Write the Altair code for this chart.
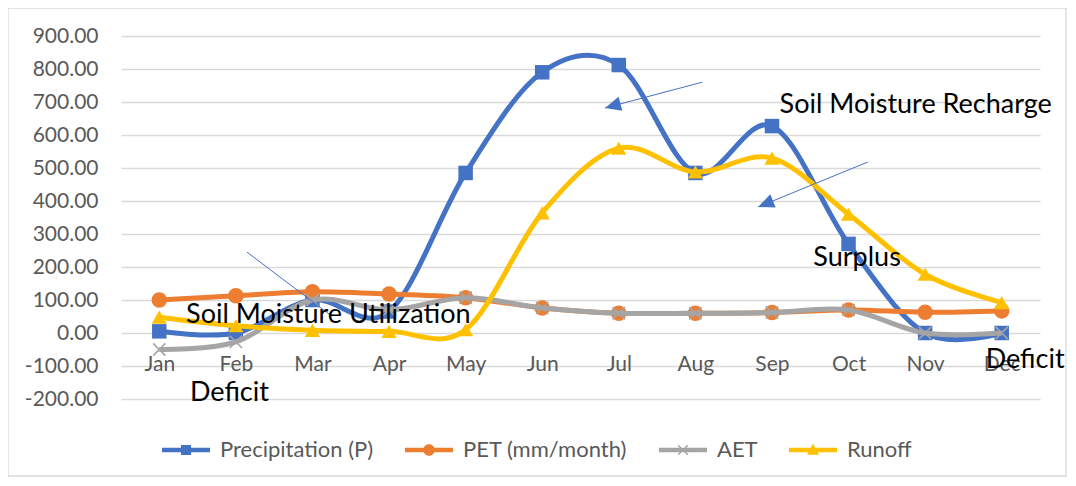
import altair as alt
import pandas as pd

# ---------------- data ----------------
months = ["Jan", "Feb", "Mar", "Apr", "May", "Jun", "Jul", "Aug", "Sep", "Oct", "Nov", "Dec"]
precip = [5, 0, 100, 65, 485, 790, 812, 485, 627, 270, 0, 0]
pet = [100, 113, 125, 118, 107, 76, 60, 60, 62, 70, 63, 67]
aet = [-50, -27, 100, 70, 107, 76, 60, 60, 62, 70, 0, 0]
runoff = [48, 22, 8, 5, 10, 364, 560, 488, 530, 360, 178, 92]

series_names = ["Precipitation (P)", "PET (mm/month)", "AET", "Runoff"]
series_colors = ["#4472C4", "#ED7D31", "#A5A5A5", "#FFC000"]
y_ticks = [-200, -100, 0, 100, 200, 300, 400, 500, 600, 700, 800, 900]

# annotations (data coordinates: x = month index, y = mm)
note_texts = ["Soil Moisture Recharge", "Surplus", "Soil Moisture Utilization", "Deficit", "Deficit"]
note_x = [8.10, 8.54, 0.35, 0.40, 10.79]
note_y = [691, 227, 55, -182, -82]

arrow_x1 = [7.09, 9.25]
arrow_y1 = [760, 518]
arrow_x2 = [5.82, 7.82]
arrow_y2 = [682, 382]
arrow_angle = [255, 248]

leader_x1 = [1.145]
leader_y1 = [245]
leader_x2 = [2.23]
leader_y2 = [55]

FONT = "Lato"

# ---------------- tables ----------------
series_values = [precip, pet, aet, runoff]
rows = []
for name, vals in zip(series_names, series_values):
    for i, v in enumerate(vals):
        rows.append({"series": name, "m": i, "value": v})
df = pd.DataFrame(rows)

notes_df = pd.DataFrame({"text": note_texts, "x": note_x, "y": note_y})
arrows_df = pd.DataFrame({"x1": arrow_x1, "y1": arrow_y1, "x2": arrow_x2, "y2": arrow_y2, "angle": arrow_angle})
leader_df = pd.DataFrame({"x1": leader_x1, "y1": leader_y1, "x2": leader_x2, "y2": leader_y2})
legend_df = pd.DataFrame({"series": series_names})
frame_df = pd.DataFrame({"k": [0]})

month_arr = "[" + ",".join("'%s'" % m for m in months) + "]"

xscale = alt.Scale(domain=[-0.5, 11.5], nice=False, zero=False)
yscale = alt.Scale(domain=[-200, 900], nice=False, zero=False)

x_axis = alt.Axis(
    values=list(range(12)),
    labelExpr=month_arr + "[datum.value]",
    title=None,
    grid=False,
    ticks=False,
    tickSize=0,
    domain=False,
    offset=-66,
    labelPadding=20,
    labelOverlap=False,
    labelFont=FONT,
    labelFontSize=21,
    labelColor="#595959",
)
y_axis = alt.Axis(
    values=y_ticks,
    labelExpr="replace(format(datum.value, '.2f'), '\u2212', '-')",
    title=None,
    grid=True,
    gridColor="#D9D9D9",
    gridWidth=1.3,
    ticks=False,
    tickSize=0,
    domain=False,
    labelPadding=23,
    labelOverlap=False,
    labelSeparation=0,
    labelFont=FONT,
    labelFontSize=21,
    labelColor="#595959",
)


def xq(field):
    return alt.X(field, type="quantitative", scale=xscale, axis=x_axis)


def yq(field):
    return alt.Y(field, type="quantitative", scale=yscale, axis=y_axis)


marker_shapes = ["square", "circle", "M-1,-1L1,1M-1,1L1,-1", "triangle-up"]
marker_sizes = [210, 240, 150, 230]
marker_filled = [True, True, False, True]

layers = []
# frame
layers.append(
    alt.Chart(frame_df).mark_rect(filled=False, stroke="#D9D9D9", strokeWidth=1.3).encode(
        x=alt.value(-113), x2=alt.value(945), y=alt.value(-28), y2=alt.value(440)
    )
)

for name, color, shp, sz, fl in zip(series_names, series_colors, marker_shapes, marker_sizes, marker_filled):
    base = alt.Chart(df).transform_filter(alt.datum.series == name)
    layers.append(
        base.mark_line(interpolate="cardinal", tension=0, color=color, strokeWidth=5).encode(
            x=xq("m"), y=yq("value")
        )
    )
    if fl:
        pts = base.mark_point(shape=shp, filled=True, size=sz, color=color, opacity=1)
    else:
        pts = base.mark_point(shape=shp, filled=False, size=sz, color=color, strokeWidth=1.6, opacity=1)
    layers.append(pts.encode(x=xq("m"), y=yq("value")))

# annotation lines and arrows
layers.append(
    alt.Chart(arrows_df).mark_rule(color="#4472C4", strokeWidth=1).encode(
        x=xq("x1"), y=yq("y1"), x2="x2:Q", y2="y2:Q"
    )
)
layers.append(
    alt.Chart(arrows_df).mark_point(
        shape="M0,0L0.45,1L-0.45,1Z", filled=True, size=1024, color="#4472C4", opacity=1
    ).encode(x=xq("x2"), y=yq("y2"), angle=alt.Angle("angle:Q", scale=None))
)
layers.append(
    alt.Chart(leader_df).mark_rule(color="#4472C4", strokeWidth=1).encode(
        x=xq("x1"), y=yq("y1"), x2="x2:Q", y2="y2:Q"
    )
)
layers.append(
    alt.Chart(notes_df).mark_text(
        align="left", baseline="middle", font=FONT, fontSize=27, color="#000000"
    ).encode(x=xq("x"), y=yq("y"), text="text:N")
)

# legend (line + marker symbols)
legend_paths = [
    "M-1,-0.09H1V0.09H-1Z M-0.21,-0.21H0.21V0.21H-0.21Z",
    "M-1,-0.09H1V0.09H-1Z M-0.24,0A0.24,0.24 0 1,1 0.24,0A0.24,0.24 0 1,1 -0.24,0Z",
    "M-1,-0.09H1V0.09H-1Z M-0.179,-0.221L0.221,0.179L0.179,0.221L-0.221,-0.179Z M0.221,-0.179L-0.179,0.221L-0.221,0.179L0.179,-0.221Z",
    "M-1,-0.09H1V0.09H-1Z M0,-0.26L0.25,0.2L-0.25,0.2Z",
]
leg = alt.Legend(
    title=None,
    orient="none",
    legendX=41,
    legendY=390,
    direction="horizontal",
    symbolSize=2304,
    symbolStrokeWidth=0,
    symbolOpacity=1,
    labelFont=FONT,
    labelFontSize=22,
    labelColor="#595959",
    labelOffset=10,
    labelLimit=400,
    columnPadding=31,
    padding=0,
)
layers.append(
    alt.Chart(legend_df).mark_point(filled=True, size=2304, opacity=1).encode(
        x=alt.value(-3000),
        y=alt.value(-3000),
        fill=alt.Fill("series:N", sort=series_names,
                      scale=alt.Scale(domain=series_names, range=series_colors), legend=leg),
        shape=alt.Shape("series:N", sort=series_names,
                        scale=alt.Scale(domain=series_names, range=legend_paths), legend=leg),
    )
)

chart = alt.layer(*layers).properties(
    width=919,
    height=363,
    autosize=alt.AutoSizeParams(type="none"),
    padding={"left": 113, "top": 28, "right": 28, "bottom": 78},
).configure_view(strokeWidth=0).configure_axis(labelOverlap=False)

chart.save("out.html", embed_options={"renderer": "svg", "actions": False})
